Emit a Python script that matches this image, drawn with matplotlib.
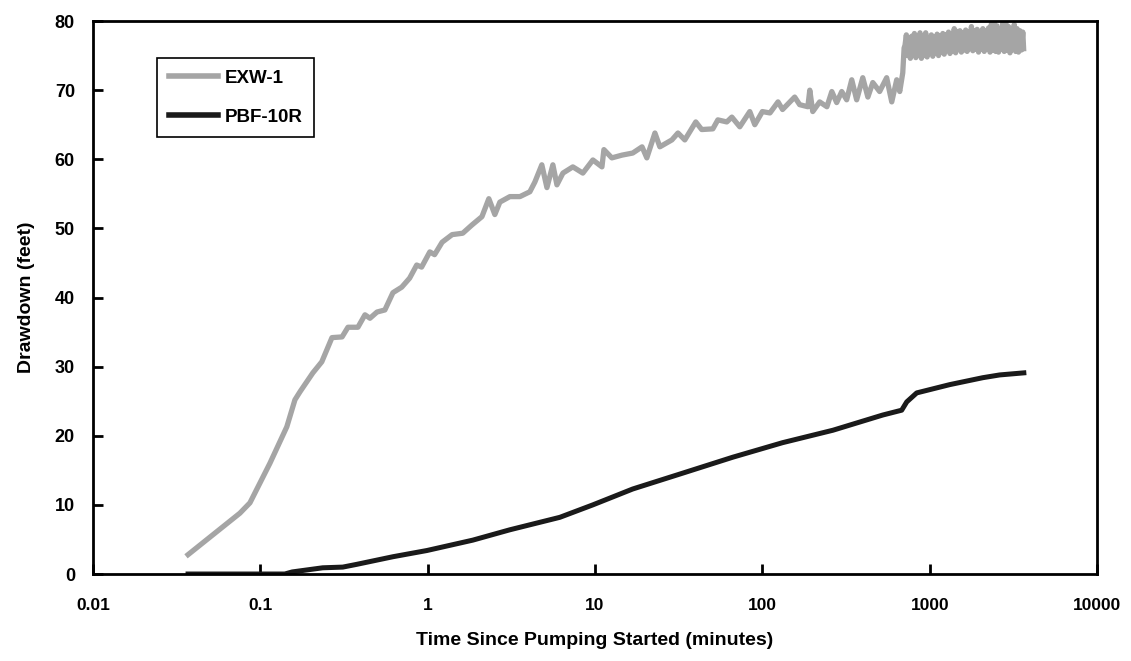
import matplotlib
matplotlib.use("Agg")
import matplotlib.pyplot as plt
from matplotlib.ticker import FixedLocator, FixedFormatter, NullLocator

plt.rcParams['font.family'] = ['Liberation Sans', 'DejaVu Sans']

# ---------------- data ----------------
exw_time = [0.037, 0.0755, 0.0867, 0.114, 0.144, 0.161, 0.173, 0.206, 0.233, 0.268,
            0.308, 0.334, 0.383, 0.422, 0.452, 0.498, 0.555, 0.62, 0.70, 0.78,
            0.86, 0.92, 1.03, 1.10, 1.22, 1.40, 1.62, 1.84, 2.11, 2.32,
            2.52, 2.70, 3.10, 3.56, 4.08, 4.37, 4.81, 5.16, 5.60, 5.92,
            6.43, 7.37, 8.46, 9.71, 11.0, 11.3, 12.6, 14.5, 16.8, 19.1,
            20.4, 22.8, 24.4, 28.8, 31.3, 34.4, 40.0, 43.4, 50.6, 54.2,
            61.3, 65.7, 73.3, 84.1, 90.1, 100, 111, 124, 132, 156,
            167, 187, 192, 200, 220, 243, 260, 278, 298, 319,
            342, 366, 398, 427, 457, 502, 553, 593, 635, 662,
            690, 703,
            712, 725, 738, 752, 766, 780, 795, 810, 826, 842,
            858, 875, 892, 910, 928, 946, 965, 984, 1003, 1023,
            1043, 1064, 1085, 1107, 1129, 1151, 1174, 1197, 1221, 1245,
            1270, 1295, 1321, 1347, 1374, 1401, 1429, 1457, 1486, 1516,
            1546, 1577, 1608, 1640, 1673, 1706, 1740, 1775, 1810, 1846,
            1883, 1920, 1958, 1997, 2037, 2077, 2118, 2160, 2203, 2247,
            2292, 2337, 2384, 2431, 2479, 2528, 2578, 2629, 2681, 2734,
            2788, 2843, 2900, 2957, 3016, 3076, 3137, 3199, 3262, 3327,
            3393, 3460, 3529, 3599, 3640]
exw_drawdown = [2.8, 8.8, 10.3, 16.0, 21.3, 25.2, 26.4, 29.1, 30.7, 34.2,
                34.3, 35.7, 35.7, 37.5, 37.0, 37.9, 38.2, 40.7, 41.5, 42.8,
                44.7, 44.4, 46.6, 46.2, 48.0, 49.1, 49.3, 50.5, 51.7, 54.3,
                52.0, 53.8, 54.6, 54.6, 55.3, 56.7, 59.2, 55.9, 59.2, 56.3,
                58.0, 58.9, 58.0, 59.9, 58.9, 61.4, 60.2, 60.6, 60.9, 61.8,
                60.2, 63.8, 61.8, 62.8, 63.8, 62.8, 65.4, 64.3, 64.4, 65.7,
                65.4, 66.1, 64.7, 66.9, 65.0, 66.9, 66.7, 68.3, 67.2, 69.0,
                67.9, 67.6, 70.0, 66.9, 68.3, 67.6, 69.8, 68.2, 69.8, 68.6,
                71.5, 68.6, 71.8, 69.0, 71.1, 69.8, 71.8, 68.3, 71.5, 69.8,
                72.5, 76.1,
                76.5, 78.0, 75.0, 77.6, 74.6, 77.8, 75.2, 78.2, 74.7, 77.5,
                75.3, 78.3, 74.6, 77.4, 75.0, 78.3, 74.8, 77.6, 75.4, 78.0,
                74.9, 77.7, 75.6, 78.1, 75.0, 77.9, 75.5, 78.2, 75.2, 78.0,
                75.8, 78.4, 75.3, 78.1, 75.7, 78.9, 75.4, 78.5, 75.9, 78.6,
                75.5, 78.3, 75.8, 78.7, 75.6, 78.4, 76.0, 79.2, 75.7, 78.6,
                75.9, 78.8, 75.5, 78.5, 76.0, 78.9, 75.6, 78.6, 75.9, 79.0,
                75.5, 79.6, 75.8, 79.9, 75.6, 79.3, 75.5, 78.8, 76.0, 79.7,
                75.6, 79.9, 75.8, 79.2, 75.4, 78.7, 75.9, 79.5, 75.6, 78.9,
                75.5, 78.6, 75.8, 78.4, 76.0]

pbf_time = [0.037, 0.14, 0.155, 0.236, 0.311, 0.377, 0.62, 0.99, 1.86, 3.10,
            6.16, 9.7, 16.8, 33.5, 66.6, 132, 264, 524, 680, 729,
            836, 1318, 2075, 2618, 3650]
pbf_drawdown = [0.0, 0.0, 0.3, 0.9, 1.0, 1.4, 2.5, 3.4, 4.9, 6.4,
                8.2, 10.0, 12.3, 14.6, 16.9, 19.0, 20.8, 23.0, 23.7, 24.9,
                26.2, 27.4, 28.4, 28.8, 29.1]

x_ticks = [0.01, 0.1, 1, 10, 100, 1000, 10000]
x_tick_labels = ["0.01", "0.1", "1", "10", "100", "1000", "10000"]
y_ticks = [0, 10, 20, 30, 40, 50, 60, 70, 80]
series_names = ["EXW-1", "PBF-10R"]

# ---------------- figure ----------------
fig = plt.figure(figsize=(11.31, 6.61), dpi=100)
ax = fig.add_axes([0.0822, 0.1316, 0.8878, 0.8366])

ax.plot(exw_time, exw_drawdown, color='#a5a5a5', lw=3.8, label=series_names[0],
        solid_joinstyle='round')
ax.plot(pbf_time, pbf_drawdown, color='#1a1a1a', lw=3.6, label=series_names[1],
        solid_joinstyle='round')

ax.set_xscale('log')
ax.set_xlim(0.01, 10000)
ax.set_ylim(0, 80)
ax.xaxis.set_major_locator(FixedLocator(x_ticks))
ax.xaxis.set_major_formatter(FixedFormatter(x_tick_labels))
ax.xaxis.set_minor_locator(NullLocator())
ax.set_yticks(y_ticks)

for s in ax.spines.values():
    s.set_linewidth(2.0)
    s.set_color('black')

ax.tick_params(axis='x', direction='in', length=7, width=2, pad=17,
               labelsize=12.5)
ax.tick_params(axis='y', direction='in', length=7, width=2, pad=13,
               labelsize=13)
for lab in ax.get_xticklabels() + ax.get_yticklabels():
    lab.set_fontweight('bold')

ax.set_xlabel("Time Since Pumping Started (minutes)", fontsize=14,
              fontweight='bold', labelpad=14)
ax.set_ylabel("Drawdown (feet)", fontsize=14, fontweight='bold', labelpad=14)

leg = ax.legend(loc='upper left', bbox_to_anchor=(0.0637, 0.933),
                borderaxespad=0, fancybox=False, framealpha=1,
                edgecolor='black', fontsize=13.5, handlelength=2.65,
                handletextpad=0.35, borderpad=0.62, labelspacing=1.15)
leg.get_frame().set_linewidth(1.2)
for line in leg.get_lines():
    line.set_linewidth(4.0)
for t in leg.get_texts():
    t.set_fontweight('semibold')

fig.savefig("out.png", dpi=100)
